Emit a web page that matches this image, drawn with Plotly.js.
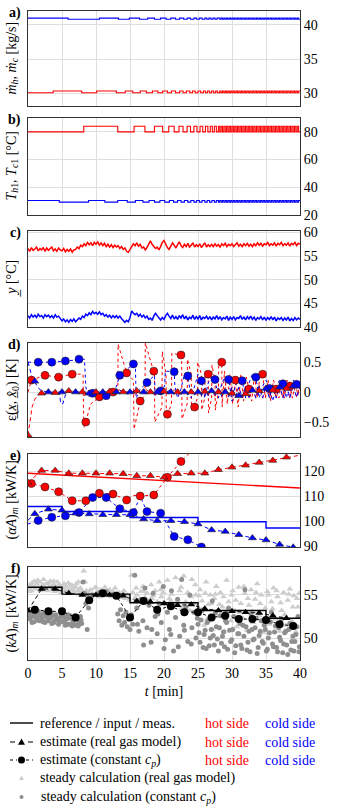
<!DOCTYPE html>
<html>
<head>
<meta charset="utf-8">
<script src="https://cdn.plot.ly/plotly-3.0.1.min.js"></script>
<style>
  body { margin: 0; background: #fff; }
  #chart { width: 342px; height: 809px; }
</style>
</head>
<body>
<div id="chart"></div>
<script>
const RED = '#ff0000';
const BLUE = '#0000ff';

// a) mass flows, square-wave inputs: switching times [min] and the two levels
const mhToggles = [3.7, 7.9, 10.1, 13.0, 14.3, 15.4, 16.5, 17.4, 18.3, 19.1, 19.8, 20.5, 21.1, 21.7, 22.3, 22.8, 23.3, 23.8, 24.2, 24.6, 25.0, 25.4, 25.8, 26.1, 26.4, 26.7, 27.0, 27.3, 27.6, 27.85];
const mcToggles = [5.9, 10.5, 13.3, 14.9, 16.4, 17.6, 18.6, 19.5, 20.3, 21.0, 21.7, 22.3, 22.9, 23.4, 23.9, 24.4, 24.8, 25.2, 25.6, 26.0, 26.3, 26.6, 26.9, 27.2, 27.5, 27.8];
const mhLevels = [30.05, 30.3];
const mcLevels = [40.84, 41.0];

// b) inlet temperatures
const thToggles = [8.2, 13.2, 15.6, 17.2, 18.6, 19.8, 20.7, 21.5, 22.2, 22.8, 23.4, 23.9, 24.4, 24.85, 25.3, 25.7, 26.1, 26.45, 26.8, 27.1, 27.4, 27.7, 28.0];
const tcToggles = [4.6, 8.9, 11.3, 13.2, 14.6, 15.8, 16.9, 17.8, 18.6, 19.4, 20.1, 20.8, 21.4, 22.0, 22.5, 23.0, 23.5, 23.95, 24.4, 24.8, 25.2, 25.6, 26.0, 26.35, 26.7, 27.05, 27.4, 27.7, 28.0];
const thLevels = [80, 84];
const tcLevels = [29.3, 30.5];
// fast switching at the end of the test (same for all inputs)
const tailToggles = [28.2, 28.4, 28.6, 28.8, 29, 29.2, 29.4, 29.6, 29.8, 30, 30.2, 30.4, 30.6, 30.8, 31, 31.2, 31.4, 31.6, 31.8, 32, 32.2, 32.4, 32.6, 32.8, 33, 33.2, 33.4, 33.6, 33.8, 34, 34.2, 34.4, 34.6, 34.8, 35, 35.2, 35.4, 35.6, 35.8, 36, 36.2, 36.4, 36.6, 36.8, 37, 37.2, 37.4, 37.6, 37.8, 38, 38.2, 38.4, 38.6, 38.8, 39, 39.2, 39.4, 39.6, 39.8];

// c) measured outlet temperatures, sampled every 0.25 min
const yHot = [56.6, 56.0, 56.8, 56.2, 56.5, 56.9, 56.1, 56.6, 56.3, 56.8, 56.0, 56.7, 56.2, 56.6, 56.9, 56.1,
  56.5, 56.0, 56.7, 56.3, 56.1, 56.6, 55.9, 56.4, 56.0, 56.5, 55.8, 56.3, 56.4, 56.9, 56.6, 57.3,
  57.0, 57.6, 57.2, 57.9, 57.4, 57.8, 57.2, 57.9, 57.5, 58.0, 57.3, 57.8, 57.2, 57.7, 57.0, 57.5,
  56.9, 57.4, 56.8, 57.3, 56.9, 57.2, 56.6, 57.0, 56.4, 56.7, 56.0, 55.8, 56.3, 57.0, 57.6, 57.2,
  57.8, 57.1, 57.5, 56.7, 56.9, 56.3, 56.8, 57.6, 58.2, 57.5, 57.0, 56.6, 56.9, 56.3, 57.0, 57.9,
  58.3, 57.4, 56.8, 56.4, 57.1, 57.8, 57.3, 56.7, 57.4, 58.0, 57.2, 56.8, 57.5, 57.0, 57.7, 56.9,
  57.3, 57.8, 56.9, 57.4, 57.0, 57.6, 56.8, 57.3, 57.8, 56.9, 57.4, 57.0, 57.5, 57.0, 57.6, 57.1,
  57.4, 56.9, 57.6, 57.2, 57.7, 57.0, 57.5, 57.2, 57.6, 57.0, 57.4, 57.8, 57.1, 57.5, 57.0, 57.6,
  57.2, 57.7, 57.1, 57.5, 57.0, 57.6, 57.2, 57.8, 57.3, 57.7, 57.1, 57.6, 57.4, 57.9, 57.2, 57.6,
  57.3, 57.8, 57.1, 57.7, 57.4, 57.9, 57.2, 57.6, 57.3, 57.8, 57.1, 57.7, 57.4, 57.9, 57.2, 57.7, 57.5];
const yCold = [42.4, 41.9, 42.6, 42.1, 42.5, 42.0, 42.7, 42.2, 42.4, 41.9, 42.6, 42.2, 42.5, 42.0, 42.4, 41.9,
  42.6, 42.1, 42.3, 41.7, 41.3, 41.7, 41.1, 41.5, 41.0, 41.6, 41.2, 41.7, 41.1, 41.5, 41.9, 41.6,
  42.3, 42.0, 42.7, 42.4, 43.0, 42.6, 43.3, 42.8, 43.1, 42.7, 43.2, 42.6, 42.9, 42.3, 42.6, 42.1,
  42.5, 41.9, 42.4, 42.0, 42.4, 41.9, 42.3, 41.8, 41.5, 41.0, 41.4, 41.1, 42.0, 43.4, 42.9, 42.6,
  42.9, 42.3, 42.7, 42.1, 42.5, 41.9, 42.3, 41.6, 41.9, 41.4, 42.3, 42.9, 42.4, 41.8, 41.5, 42.0,
  41.6, 42.4, 42.9, 42.3, 41.8, 42.5, 41.7, 42.2, 41.6, 42.4, 41.9, 42.6, 41.7, 42.3, 41.5, 42.1,
  41.8, 42.5, 41.6, 42.2, 41.7, 42.4, 41.5, 42.1, 41.8, 42.3, 41.6, 42.2, 41.5, 42.1, 41.7, 42.4,
  41.6, 42.2, 41.5, 42.0, 41.7, 42.3, 41.4, 42.1, 41.6, 42.2, 41.5, 42.0, 41.8, 42.4, 41.6, 42.1,
  41.5, 42.2, 41.7, 42.3, 41.6, 42.1, 41.4, 42.0, 41.7, 42.2, 41.5, 42.1, 41.4, 42.0, 41.6, 42.2,
  41.5, 42.1, 41.3, 41.9, 41.6, 42.0, 41.4, 41.9, 41.5, 42.1, 41.3, 41.8, 41.4, 42.0, 41.5, 41.9, 41.6];

// d) state estimation error
const dHotCpT = [0, 0.5, 2.5, 4.5, 6.5, 8.1, 8.2, 8.5, 9.2, 10.5, 12.5, 13.2, 13.25, 14.5, 15.5, 15.6, 16.5, 17.2, 17.25, 18.5, 18.6, 18.65, 19.7, 19.75, 20.3, 20.35, 20.5, 21.1, 21.15, 22.5, 22.6, 22.65, 23.4, 23.45, 24.0, 24.05, 24.5, 24.9, 24.95, 25.5, 25.55, 26.0, 26.05, 26.5, 26.55, 27.0, 27.05, 27.5, 27.55, 28.0, 28.05, 28.5, 28.55, 28.9, 29.3, 29.7, 30.1, 30.5, 30.9, 31.3, 31.7, 32.1, 32.5, 32.9, 33.3, 33.7, 34.1, 34.5, 34.9, 35.3, 35.7, 36.1, 36.5, 36.9, 37.3, 37.7, 38.1, 38.5, 38.9, 39.3, 39.7, 40];
const dHotCpV = [0, 0.2, 0.28, 0.25, 0.3, 0.3, -0.6, -0.5, -0.2, -0.08, 0, 0.02, 0.8, 0.32, 0.2, -0.62, -0.15, -0.05, 0.82, 0.35, 0.3, -0.5, -0.25, 0.68, 0.3, -0.4, -0.37, -0.2, 0.65, 0.62, 0.5, -0.45, -0.2, 0.55, 0.3, -0.3, -0.25, -0.1, 0.5, 0.3, -0.3, -0.1, 0.35, 0.3, -0.35, -0.1, 0.45, 0.2, -0.3, 0, 0.5, 0.5, -0.25, 0.35, -0.2, 0.3, -0.2, 0.2, -0.25, 0.3, -0.15, 0.25, 0.05, -0.15, 0.3, -0.1, 0.25, 0.3, -0.1, 0.2, -0.15, 0.2, 0.05, -0.1, 0.2, -0.1, 0.2, 0.1, -0.1, 0.15, -0.05, 0.1];
const dColdCpT = [0, 1.5, 3.5, 5.5, 7.5, 8.3, 8.5, 8.7, 9.5, 11.5, 12.5, 13.0, 13.5, 14.5, 15.5, 15.8, 15.9, 16.5, 17.5, 18.0, 18.6, 18.7, 19.5, 20.1, 20.2, 21.5, 21.6, 22.0, 22.5, 23.0, 23.5, 24.0, 24.5, 25.0, 25.5, 26.0, 26.5, 27.0, 27.5, 28.0, 28.5, 29.0, 29.5, 30.0, 30.5, 31.0, 31.5, 32.0, 32.5, 33.0, 33.5, 34.0, 34.5, 35.0, 35.5, 36.0, 36.5, 37.0, 37.5, 38.0, 38.5, 39.0, 39.5, 40];
const dColdCpV = [0.5, 0.5, 0.5, 0.52, 0.55, 0.55, 0.1, -0.05, -0.02, -0.06, -0.03, 0.1, 0.28, 0.38, 0.47, 0.4, -0.1, 0.05, 0.16, 0.2, 0.28, -0.05, 0.02, 0.1, 0.35, 0.34, 0.1, -0.1, 0.05, 0.3, 0.27, -0.1, 0.1, 0.3, 0.19, -0.1, 0.15, 0.25, 0.21, -0.1, 0.15, 0.25, 0.21, -0.15, 0.1, 0.2, 0.19, -0.1, 0.15, 0.3, 0.25, -0.1, 0.1, 0.2, 0.06, -0.15, 0.1, 0.2, 0.14, -0.1, 0.15, 0.2, 0.13, 0.05];
const dHotGasT = [0, 0.3, 0.6, 1, 1.5, 2, 4, 6, 8.2, 8.3, 8.7, 10, 13.2, 13.3, 13.8, 15.6, 15.7, 16.3, 17.2, 17.3, 17.8, 18.6, 18.7, 19.2, 19.8, 20.7, 21.5, 22.2, 22.8, 23.4, 24, 24.5, 25, 25.5, 26, 26.5, 27, 27.5, 28, 28.5, 29, 29.5, 30, 30.5, 31, 31.5, 32, 32.5, 33, 33.5, 34, 34.5, 35, 35.5, 36, 36.5, 37, 37.5, 38, 38.5, 39, 39.5, 40];
const dHotGasV = [-0.72, -0.45, -0.25, -0.12, -0.05, -0.02, -0.01, 0.02, 0, -0.06, 0.02, 0, 0, 0.06, 0, 0, -0.06, 0.02, 0, 0.05, 0, 0, -0.05, 0, 0.03, -0.03, 0.04, -0.04, 0.04, -0.04, 0.05, -0.05, 0.05, -0.05, 0.06, -0.06, 0.06, -0.07, 0.07, -0.08, 0.08, -0.08, 0.09, -0.09, 0.09, -0.1, 0.1, -0.1, 0.1, -0.1, 0.11, -0.1, 0.11, -0.1, 0.12, -0.1, 0.12, -0.1, 0.12, -0.1, 0.13, -0.08, 0.1];
const dColdGasT = [0, 0.3, 0.6, 1, 1.5, 2, 3, 4.6, 4.8, 5.1, 5.5, 6, 8.9, 9.0, 9.5, 11.3, 11.4, 12, 13.2, 13.3, 14, 14.6, 14.7, 15.3, 15.8, 16.9, 17.8, 18.6, 19.4, 20.1, 20.8, 21.4, 22, 22.5, 23, 23.5, 24, 24.5, 25, 25.5, 26, 26.5, 27, 27.5, 28, 28.5, 29, 29.5, 30, 30.5, 31, 31.5, 32, 32.5, 33, 33.5, 34, 34.5, 35, 35.5, 36, 36.5, 37, 37.5, 38, 38.5, 39, 39.5, 40];
const dColdGasV = [0.5, 0.35, 0.25, 0.17, 0.07, 0.02, 0, 0, -0.18, -0.2, -0.05, 0, 0, -0.08, 0, 0, -0.05, 0, 0, 0.04, 0, 0, -0.04, 0, 0.03, -0.03, 0.03, -0.03, 0.03, -0.04, 0.04, -0.04, 0.04, -0.04, 0.05, -0.05, 0.05, -0.05, 0.05, -0.06, 0.06, -0.06, 0.06, -0.07, 0.07, -0.07, 0.07, -0.08, 0.08, -0.08, 0.08, -0.09, 0.09, -0.09, 0.09, -0.1, 0.1, -0.1, 0.1, -0.1, 0.11, -0.1, 0.11, -0.1, 0.12, -0.1, 0.12, -0.09, 0.1];
// markers drawn every 2 min
const dHotCpMarkT = [0.5, 2.5, 4.5, 6.5, 8.5, 10.5, 12.5, 14.5, 16.5, 18.5, 20.5, 22.5, 24.5, 26.5, 28.5, 30.5, 32.5, 34.5, 36.5, 38.5];
const dHotCpMarkV = [0.2, 0.28, 0.25, 0.3, -0.5, -0.08, 0, 0.32, -0.15, 0.35, -0.37, 0.62, -0.25, 0.3, 0.5, 0.2, 0.05, 0.3, 0.05, 0.1];
const dColdCpMarkT = [1.5, 3.5, 5.5, 7.5, 9.5, 11.5, 13.5, 15.5, 17.5, 19.5, 21.5, 23.5, 25.5, 27.5, 29.5, 31.5, 33.5, 35.5, 37.5, 39.5];
const dColdCpMarkV = [0.5, 0.5, 0.52, 0.55, -0.02, -0.06, 0.28, 0.47, 0.16, 0.02, 0.34, 0.27, 0.19, 0.21, 0.21, 0.19, 0.25, 0.06, 0.14, 0.13];
const dHotGasMarkT = [0, 2, 4, 6, 8, 10, 12, 14, 16, 18, 20, 22, 24, 26, 28, 30, 32, 34, 36, 38];
const dHotGasMarkV = [-0.72, -0.02, -0.01, 0.02, 0, 0, 0.01, 0, 0.02, 0, 0.01, 0, 0, 0.01, 0, -0.02, -0.03, 0.02, 0.03, 0.06];
const dColdGasMarkT = [1, 3, 5, 7, 9, 11, 13, 15, 17, 19, 21, 23, 25, 27, 29, 31, 33, 35, 37, 39];
const dColdGasMarkV = [0.18, 0, 0, 0, -0.02, 0, 0, 0, 0, 0, 0, 0, 0, 0.02, 0, -0.06, 0.03, 0.06, 0.08, 0.1];

// e) convective conductances
const eHotRefT = [0, 40];
const eHotRefV = [119.3, 113.4];
const eColdRefT = [0, 5, 15, 25, 35, 40];
const eColdRefV = [106.0, 104.0, 101.6, 99.9, 97.4, 97.4];
const eHotGasT = [0, 2, 4, 6, 8, 10, 12, 14, 16, 18, 20, 22, 24, 26, 28, 30, 32, 34, 36, 38, 40];
const eHotGasV = [115.6, 120.4, 120.4, 119.3, 119.3, 119.3, 119.3, 119.1, 118.3, 118.3, 117.7, 119.1, 119.3, 119.3, 120.7, 121.7, 122.5, 123.6, 124.4, 125.7, 126.5];
const eColdGasT = [0, 1, 3, 5, 7, 9, 11, 13, 15, 17, 19, 21, 23, 25, 27, 29, 31, 33, 35, 37, 39, 40];
const eColdGasV = [100.5, 103.1, 104.9, 104.5, 103.3, 103.0, 102.7, 102.7, 102.7, 101.0, 100.3, 100.3, 99.9, 99.0, 96.6, 96.0, 94.7, 93.4, 92.6, 90.8, 89.7, 89.3];
const eHotCpT = [0, 0.5, 2.5, 4.5, 6.5, 8.5, 10.5, 12.5, 14.5, 15.5, 16.5, 18.5, 20.5, 22.5, 23.8];
const eHotCpV = [115.5, 115.2, 113.8, 111.9, 108.3, 108.3, 111.3, 111.0, 108.6, 110.5, 110.2, 110.6, 117.7, 124.0, 127.5];
const eHotCpMarkT = [0.5, 2.5, 4.5, 6.5, 8.5, 10.5, 12.5, 14.5, 16.5, 18.5, 20.5, 22.5];
const eHotCpMarkV = [115.2, 113.8, 111.9, 108.3, 108.3, 111.3, 111.0, 108.6, 110.2, 110.6, 117.7, 124.0];
const eColdCpT = [0, 1.5, 3.5, 5.5, 7.5, 9.5, 11.5, 13.5, 15.5, 16.5, 17.5, 19.5, 21.5, 23.5, 25.5, 26.2];
const eColdCpV = [99.0, 100.4, 101.7, 102.3, 103.6, 109.6, 109.6, 105.1, 103.6, 110.0, 104.0, 103.3, 94.0, 92.7, 89.8, 89.0];
const eColdCpMarkT = [1.5, 3.5, 5.5, 7.5, 9.5, 11.5, 13.5, 15.5, 17.5, 19.5, 21.5, 23.5, 25.5];
const eColdCpMarkV = [100.4, 101.7, 102.3, 103.6, 109.6, 109.6, 105.1, 103.6, 104.0, 103.3, 94.0, 92.7, 89.8];

// f) overall conductance
const fRefT = [0, 5, 15, 25, 35, 40];
const fRefV = [55.9, 55.1, 54.1, 53.2, 52.3, 52.3];
const fGasT = [0, 2, 4, 6, 8, 10, 12, 14, 16, 18, 20, 22, 24, 26, 28, 30, 32, 34, 36, 38];
const fGasV = [53.2, 55.7, 55.7, 55.2, 55.0, 55.0, 55.0, 54.9, 54.3, 54.2, 54.0, 53.8, 53.9, 53.4, 53.2, 53.1, 53.0, 52.9, 52.6, 52.3];
const fCpT = [1, 3, 5, 7, 9, 11, 13, 15, 17, 19, 21, 23, 25, 27, 29, 31, 33, 35, 37, 39];
const fCpV = [53.3, 53.1, 53.1, 52.4, 54.4, 55.2, 54.9, 52.4, 54.3, 53.3, 53.7, 53.0, 53.0, 52.4, 52.6, 52.2, 52.2, 52.1, 51.6, 51.4];
// steady-state calculations (scatter clouds)
const steadyGasT = [0.1, 0.3, 0.5, 0.7, 0.9, 1.1, 1.3, 1.5, 1.7, 1.9, 2.1, 2.3, 2.5, 2.7, 2.9, 3.1, 3.3, 3.5, 3.7, 3.9, 4.1, 4.3, 4.5, 4.7, 4.9, 5.1, 5.3, 5.5, 5.7, 5.9, 6.1, 6.3, 6.5, 6.7, 6.9, 7.1, 7.3, 7.5, 7.7, 7.9,
  8.2, 8.4, 8.6, 8.9, 9.2, 9.5, 9.8, 10.1, 10.4, 10.7, 11.0, 11.3, 11.6, 11.9, 12.2, 12.5, 12.8, 13.1, 13.4, 13.7, 14.0, 14.3, 14.6, 14.9,
  15.2, 15.4, 15.7, 16.0, 16.3, 16.6, 16.9, 17.2, 17.5, 17.8, 18.1, 18.4, 18.7, 19.0, 19.3, 19.6, 19.9, 20.2, 20.5, 20.8, 21.1, 21.4, 21.7, 22.0, 22.3, 22.6, 22.9, 23.2, 23.5, 23.8, 24.1, 24.4, 24.7,
  25.0, 25.3, 25.6, 25.9, 26.2, 26.5, 26.8, 27.1, 27.4, 27.7, 28.0, 28.3, 28.6, 28.9, 29.2, 29.5, 29.8, 30.1, 30.4, 30.7, 31.0, 31.3, 31.6, 31.9, 32.2, 32.5, 32.8, 33.1, 33.4, 33.7, 34.0, 34.3, 34.6, 34.9, 35.2, 35.5, 35.8, 36.1, 36.4, 36.7, 37.0, 37.3, 37.6, 37.9, 38.2, 38.5, 38.8, 39.1, 39.4, 39.7, 39.9,
  0.2, 0.6, 1.0, 1.4, 1.8, 2.2, 2.6, 3.0, 3.4, 3.8, 4.2, 4.6, 5.0, 5.4, 5.8, 6.2, 6.6, 7.0, 7.4, 7.8,
  9.0, 10.0, 11.1, 12.0, 13.0, 14.1, 15.9, 17.0, 18.2, 19.5, 21.0, 22.5, 24.0, 24.6,
  25.15, 25.45, 26.05, 26.35, 26.95, 27.55, 28.15, 28.75, 29.35, 29.95, 30.55, 31.15, 31.75, 32.35, 32.95, 33.55, 34.15, 34.75, 35.35, 35.95, 36.55, 37.15, 37.75, 38.35, 38.95, 39.55];
const steadyGasV = [55.8, 56.2, 55.5, 56.0, 56.6, 55.7, 56.3, 55.9, 56.5, 55.6, 56.1, 56.8, 55.8, 56.3, 55.5, 56.0, 56.6, 55.7, 56.2, 55.4, 56.0, 56.5, 55.6, 56.1, 55.3, 55.8, 56.3, 55.5, 55.9, 56.4, 55.2, 55.7, 56.1, 55.4, 55.9, 56.3, 55.5, 55.1, 55.8, 55.3,
  57.8, 56.5, 55.5, 54.9, 55.6, 55.1, 55.8, 55.3, 54.8, 55.6, 55.2, 55.9, 55.0, 55.5, 54.8, 55.4, 55.8, 54.9, 55.3, 54.7, 55.2, 54.6, 55.0, 54.4,
  57.3, 55.3, 54.6, 55.0, 54.3, 55.4, 56.0, 54.7, 55.2, 54.4, 56.2, 54.9, 55.5, 54.2, 56.5, 54.8, 55.3, 54.0, 56.7, 54.6, 55.1, 53.8, 57.0, 54.4, 55.5, 53.5, 57.2, 54.2, 55.3, 53.2, 56.8, 54.0, 55.0,
  52.8, 55.6, 54.3, 51.5, 56.5, 53.9, 55.0, 51.0, 54.6, 56.0, 52.5, 55.3, 53.6, 50.8, 56.7, 54.2, 52.0, 55.5, 53.2, 51.3, 55.9, 54.0, 52.3, 55.2, 50.9, 53.8, 55.6, 51.8, 54.5, 56.3, 52.6, 55.0, 50.6, 53.5, 55.4, 51.6, 54.2, 55.8, 52.2, 54.8, 50.8, 53.2, 55.3, 51.5, 54.4, 55.7, 52.0, 54.9, 50.7, 53.6, 55.2,
  55.4, 56.4, 55.9, 56.7, 55.5, 56.2, 55.6, 56.4, 55.9, 56.6, 55.5, 56.2, 55.7, 56.0, 55.4, 56.2, 55.6, 55.9, 56.5, 55.6,
  55.3, 55.9, 54.9, 55.6, 55.2, 55.5, 55.8, 55.4, 54.6, 55.6, 54.3, 55.9, 54.8, 56.2,
  54.9, 53.3, 55.2, 52.2, 54.0, 55.1, 53.9, 54.8, 52.8, 55.0, 54.4, 53.0, 56.0, 54.6, 53.1, 55.3, 54.0, 51.9, 55.0, 53.4, 55.5, 54.1, 52.7, 55.1, 53.6, 54.6];
const steadyCpT = [0.1, 0.3, 0.5, 0.7, 0.9, 1.1, 1.3, 1.5, 1.7, 1.9, 2.1, 2.3, 2.5, 2.7, 2.9, 3.1, 3.3, 3.5, 3.7, 3.9, 4.1, 4.3, 4.5, 4.7, 4.9, 5.1, 5.3, 5.5, 5.7, 5.9, 6.1, 6.3, 6.5, 6.7, 6.9, 7.1, 7.3, 7.5, 7.7, 7.9,
  8.1, 8.3, 8.5, 8.7, 8.9, 9.5, 10.5, 11.5, 12.5,
  13.2, 13.4, 13.6, 13.8, 14.0, 14.2, 14.4, 14.6, 14.8, 15.0, 15.2, 15.4,
  15.7, 16.0, 16.3, 16.6, 16.9, 17.2, 17.5, 17.8, 18.1, 18.4, 18.7, 19.0, 19.3, 19.6, 19.9, 20.2, 20.5, 20.8, 21.1, 21.4, 21.7, 22.0, 22.3, 22.6, 22.9, 23.2, 23.5, 23.8, 24.1, 24.4, 24.7,
  25.0, 25.3, 25.6, 25.9, 26.2, 26.5, 26.8, 27.1, 27.4, 27.7, 28.0, 28.3, 28.6, 28.9, 29.2, 29.5, 29.8, 30.1, 30.4, 30.7, 31.0, 31.3, 31.6, 31.9, 32.2, 32.5, 32.8, 33.1, 33.4, 33.7, 34.0, 34.3, 34.6, 34.9, 35.2, 35.5, 35.8, 36.1, 36.4, 36.7, 37.0, 37.3, 37.6, 37.9, 38.2, 38.5, 38.8, 39.1, 39.4, 39.7, 39.9,
  0.2, 0.6, 1.0, 1.4, 1.8, 2.2, 2.6, 3.0, 3.4, 3.8, 4.2, 4.6, 5.0, 5.4, 5.8, 6.2, 6.6, 7.0, 7.4, 7.8,
  16.1, 17.0, 18.2, 19.1, 20.0, 21.0, 22.1, 23.0, 24.0, 24.9,
  25.15, 25.45, 25.75, 26.05, 26.35, 26.65, 26.95, 27.25, 27.55, 27.85, 28.15, 28.45, 28.75, 29.05, 29.35, 29.65, 29.95, 30.25, 30.55, 30.85, 31.15, 31.45, 31.75, 32.05, 32.35, 32.65, 32.95, 33.25, 33.55, 33.85, 34.15, 34.45, 34.75, 35.05, 35.35, 35.65, 35.95, 36.25, 36.55, 36.85, 37.15, 37.45, 37.75, 38.05, 38.35, 38.65, 38.95, 39.25, 39.55, 39.85];
const steadyCpV = [52.8, 52.2, 53.0, 52.5, 51.9, 52.7, 52.3, 53.1, 52.0, 52.6, 52.2, 52.9, 51.8, 52.5, 52.1, 52.8, 52.3, 51.7, 52.6, 52.0, 52.7, 52.2, 51.6, 52.4, 52.9, 51.9, 52.5, 51.5, 52.2, 52.7, 51.6, 52.3, 51.4, 52.0, 52.6, 51.5, 52.2, 51.8, 52.5, 51.7,
  56.5, 55.2, 54.0, 51.0, 53.5, 55.0, 55.3, 55.4, 55.1,
  52.8, 52.0, 53.3, 51.5, 52.6, 51.8, 53.0, 51.3, 52.2, 51.0, 52.7, 51.6,
  57.3, 53.5, 50.8, 54.5, 52.0, 55.8, 51.2, 53.8, 49.5, 55.2, 52.5, 50.5, 54.0, 51.8, 56.0, 49.8, 53.0, 51.0, 55.5, 48.5, 52.4, 54.5, 50.2, 56.8, 51.5, 53.6, 49.6, 55.0, 51.2, 53.0, 50.0,
  51.6, 49.5, 53.2, 50.4, 48.8, 52.0, 50.0, 54.3, 49.2, 51.3, 48.5, 52.6, 50.2, 49.0, 51.8, 53.5, 49.6, 51.0, 48.3, 52.3, 50.5, 49.2, 51.5, 55.6, 48.6, 50.8, 52.8, 49.8, 51.2, 48.2, 50.3, 52.0, 49.4, 51.0, 48.7, 50.6, 53.0, 49.0, 51.4, 48.4, 50.1, 52.2, 49.3, 50.8, 48.1, 51.7, 49.6, 48.5, 50.4, 52.5, 49.0,
  52.4, 51.8, 52.9, 52.1, 52.7, 51.9, 52.6, 52.0, 52.9, 51.8, 52.4, 51.9, 52.6, 52.0, 51.6, 52.6, 51.8, 52.3, 51.4, 52.1,
  51.6, 49.2, 51.0, 52.8, 48.8, 50.4, 49.0, 50.9, 49.3, 52.3,
  50.6, 52.1, 48.9, 50.9, 51.8, 49.1, 51.0, 50.3, 52.9, 49.9, 51.2, 49.4, 50.7, 52.0, 48.7, 50.9, 49.8, 52.5, 49.1, 50.5, 51.7, 48.8, 50.2, 51.3, 49.5, 48.4, 51.0, 49.9, 52.3, 48.9, 50.8, 49.6, 51.5, 48.5, 50.0, 51.9, 49.3, 50.7, 48.9, 51.2, 49.7, 48.3, 50.6, 49.2, 51.0, 48.6, 50.2, 49.6, 51.3, 48.4];

// legend rows (pixel rows of the reference) and their labels
const legendRows = [723, 742, 760, 778, 797];
const legendLabels = ['reference / input / meas.', 'estimate (real gas model)', 'estimate (constant <i>c<sub>p</sub></i>)',
  'steady calculation (real gas model)', 'steady calculation (constant <i>c<sub>p</sub></i>)'];

// ---------- helpers ----------
const W = 342, H = 809;
const FONT = '"Liberation Serif", "Times New Roman", serif';
// panel boxes in pixels (top, bottom)
const boxes = [[11, 106], [118, 215], [231, 327], [343, 437], [454, 547], [567, 660]];
const xDom = [28 / W, 300 / W];
function yDom(i) { return [1 - boxes[i][1] / H, 1 - boxes[i][0] / H]; }
const px = v => v / W;
const py = v => 1 - v / H;

function steps(toggles, levels, startHigh) {
  const x = [0], y = [levels[startHigh ? 1 : 0]];
  let high = startHigh;
  toggles.forEach(t => { high = !high; x.push(t); y.push(levels[high ? 1 : 0]); });
  x.push(40); y.push(y[y.length - 1]);
  return { x, y };
}

function line(ax, x, y, color, dash, width, shape) {
  return { x, y, xaxis: 'x' + ax, yaxis: 'y' + ax, mode: 'lines',
    line: { color, dash: dash || 'solid', width: width || 1.2, shape: shape || 'linear' }, hoverinfo: 'skip' };
}
function marks(ax, x, y, color, symbol, size) {
  return { x, y, xaxis: 'x' + ax, yaxis: 'y' + ax, mode: 'markers',
    marker: { color, symbol, size: size || 8, line: { color: '#222', width: 0.6 } }, hoverinfo: 'skip' };
}

const traces = [];
// a)
const mh = steps(mhToggles.concat(tailToggles), mhLevels, false);
const mc = steps(mcToggles.concat(tailToggles), mcLevels, true);
traces.push(line('', mh.x, mh.y, RED, 'solid', 1.1, 'hv'), line('', mc.x, mc.y, BLUE, 'solid', 1.1, 'hv'));
// b)
const th = steps(thToggles.concat(tailToggles), thLevels, false);
const tc = steps(tcToggles.concat(tailToggles), tcLevels, true);
traces.push(line('2', th.x, th.y, RED, 'solid', 1.1, 'hv'), line('2', tc.x, tc.y, BLUE, 'solid', 1.1, 'hv'));
// c)
traces.push(Object.assign(line('3', null, yHot, RED, 'solid', 1.5), { x0: 0, dx: 0.25 }));
traces.push(Object.assign(line('3', null, yCold, BLUE, 'solid', 1.5), { x0: 0, dx: 0.25 }));
// d)
traces.push(line('4', dHotCpT, dHotCpV, RED, 'dot', 1));
traces.push(line('4', dColdCpT, dColdCpV, BLUE, 'dot', 1));
traces.push(line('4', dHotGasT, dHotGasV, RED, '4px,3px', 1));
traces.push(line('4', dColdGasT, dColdGasV, BLUE, '4px,3px', 1));
traces.push(marks('4', dHotCpMarkT, dHotCpMarkV, RED, 'circle'));
traces.push(marks('4', dColdCpMarkT, dColdCpMarkV, BLUE, 'circle'));
traces.push(marks('4', dHotGasMarkT, dHotGasMarkV, RED, 'triangle-up', 7));
traces.push(marks('4', dColdGasMarkT, dColdGasMarkV, BLUE, 'triangle-up', 7));
// e)
traces.push(line('5', eHotRefT, eHotRefV, RED, 'solid', 1.4));
traces.push(line('5', eColdRefT, eColdRefV, BLUE, 'solid', 1.4, 'hv'));
traces.push(line('5', eHotCpT, eHotCpV, RED, 'dot', 1));
traces.push(line('5', eColdCpT, eColdCpV, BLUE, 'dot', 1));
traces.push(line('5', eHotGasT, eHotGasV, RED, '4px,3px', 1));
traces.push(line('5', eColdGasT, eColdGasV, BLUE, '4px,3px', 1));
traces.push(marks('5', eHotCpMarkT, eHotCpMarkV, RED, 'circle'));
traces.push(marks('5', eColdCpMarkT, eColdCpMarkV, BLUE, 'circle'));
traces.push(marks('5', eHotGasT.slice(0, -1), eHotGasV.slice(0, -1), RED, 'triangle-up', 7));
traces.push(marks('5', eColdGasT.slice(1, -1), eColdGasV.slice(1, -1), BLUE, 'triangle-up', 7));
// f)
traces.push({ x: steadyGasT, y: steadyGasV, xaxis: 'x6', yaxis: 'y6', mode: 'markers',
  marker: { symbol: 'triangle-up', size: 6, color: '#cdcdcd' }, hoverinfo: 'skip' });
traces.push({ x: steadyCpT, y: steadyCpV, xaxis: 'x6', yaxis: 'y6', mode: 'markers',
  marker: { symbol: 'circle', size: 5, color: '#8f8f8f' }, hoverinfo: 'skip' });
traces.push(line('6', fRefT, fRefV, '#000', 'solid', 1.4, 'hv'));
traces.push({ x: fCpT, y: fCpV, xaxis: 'x6', yaxis: 'y6', mode: 'lines+markers',
  line: { color: '#000', width: 1, dash: 'dot' },
  marker: { symbol: 'circle', size: 8, color: '#000' }, hoverinfo: 'skip' });
traces.push({ x: fGasT, y: fGasV, xaxis: 'x6', yaxis: 'y6', mode: 'lines+markers',
  line: { color: '#000', width: 1, dash: '4px,3px' },
  marker: { symbol: 'triangle-up', size: 7, color: '#000' }, hoverinfo: 'skip' });

// ---------- layout ----------
const yRanges = [[28.1, 42.05], [20, 90], [40, 60.3], [-0.75, 0.82], [89.8, 127], [47.45, 58.25]];
const yTicks = [[30, 35, 40], [20, 40, 60, 80], [40, 45, 50, 55, 60], [-0.5, 0, 0.5], [90, 100, 110, 120], [50, 55]];
const yTitles = [
  '<i>ṁ</i><sub><i>h</i></sub>, <i>ṁ</i><sub><i>c</i></sub> [kg/s]',
  '<i>T</i><sub><i>h</i>1</sub>, <i>T</i><sub><i>c</i>1</sub> [°C]',
  '<i>y̲</i> [°C]',
  'ε̲(<i>x̲</i>, <i>x̲̂</i><sub>0</sub>) [K]',
  '(<i>αA</i>)<sub><i>m</i></sub> [kW/K]',
  '(<i>kA</i>)<sub><i>m</i></sub> [kW/K]'];
const panelTags = ['a)', 'b)', 'c)', 'd)', 'e)', 'f)'];

const layout = {
  width: W, height: H,
  margin: { l: 0, r: 0, t: 0, b: 0 },
  paper_bgcolor: '#fff', plot_bgcolor: '#fff',
  font: { family: FONT, size: 14, color: '#000' },
  showlegend: false,
  annotations: [], shapes: []
};

for (let i = 0; i < 6; i++) {
  const s = i === 0 ? '' : String(i + 1);
  layout['xaxis' + s] = {
    domain: xDom, range: [0, 40], anchor: 'y' + s, tickvals: [0, 5, 10, 15, 20, 25, 30, 35, 40],
    showticklabels: i === 5, ticks: '', showline: true, mirror: true, linecolor: '#333', linewidth: 1,
    gridcolor: '#dedede', gridwidth: 1, zeroline: false, tickfont: { family: FONT, size: 14 }
  };
  layout['yaxis' + s] = {
    domain: yDom(i), range: yRanges[i], anchor: 'x' + s, side: 'right', tickvals: yTicks[i],
    ticks: '', showline: true, mirror: true, linecolor: '#333', linewidth: 1,
    gridcolor: '#dedede', gridwidth: 1, zeroline: false, tickfont: { family: FONT, size: 14 }
  };
  const mid = (boxes[i][0] + boxes[i][1]) / 2;
  layout.annotations.push({ xref: 'paper', yref: 'paper', x: px(12), y: py(mid), text: yTitles[i],
    textangle: -90, showarrow: false, xanchor: 'center', yanchor: 'middle', font: { family: FONT, size: 14 } });
  layout.annotations.push({ xref: 'paper', yref: 'paper', x: px(23), y: py(boxes[i][0] + 2),
    text: '<b>' + panelTags[i] + '</b>', showarrow: false, xanchor: 'right', yanchor: 'middle',
    font: { family: FONT, size: 14 } });
}
layout.xaxis6.title = { text: '<i>t</i> [min]', font: { family: FONT, size: 14 }, standoff: 6 };

// ---------- legend (drawn by hand: three colour columns) ----------
legendRows.forEach((r, k) => {
  layout.annotations.push({ xref: 'paper', yref: 'paper', x: px(k === 4 ? 39 : 38), y: py(r), text: legendLabels[k],
    showarrow: false, xanchor: 'left', yanchor: 'middle', font: { family: FONT, size: 14 } });
  if (k < 3) {
    layout.annotations.push({ xref: 'paper', yref: 'paper', x: px(203), y: py(r), text: 'hot side',
      showarrow: false, xanchor: 'left', yanchor: 'middle', font: { family: FONT, size: 14, color: RED } });
    layout.annotations.push({ xref: 'paper', yref: 'paper', x: px(263), y: py(r), text: 'cold side',
      showarrow: false, xanchor: 'left', yanchor: 'middle', font: { family: FONT, size: 14, color: BLUE } });
  }
});
const lg = (x0, x1, r, dash, width) => ({ type: 'line', xref: 'paper', yref: 'paper', x0: px(x0), x1: px(x1),
  y0: py(r), y1: py(r), line: { color: '#000', width: width || 1, dash: dash || 'solid' } });
const tri = (cx, r, s, color) => ({ type: 'path', xref: 'paper', yref: 'paper', fillcolor: color, line: { width: 0 },
  path: `M${px(cx - s)},${py(r + s * 0.8)} L${px(cx + s)},${py(r + s * 0.8)} L${px(cx)},${py(r - s)} Z` });
const dot = (cx, r, s, color) => ({ type: 'circle', xref: 'paper', yref: 'paper', fillcolor: color, line: { width: 0 },
  x0: px(cx - s), x1: px(cx + s), y0: py(r + s), y1: py(r - s) });
layout.shapes.push(lg(10, 33, legendRows[0], 'solid', 1.4));
layout.shapes.push(lg(10, 15, legendRows[1]), lg(28, 33, legendRows[1]), tri(21.5, legendRows[1], 3.5, '#000'));
layout.shapes.push(lg(10, 17, legendRows[2], 'dot'), lg(26, 33, legendRows[2], 'dot'), dot(21.5, legendRows[2], 3.5, '#000'));
layout.shapes.push(tri(21.5, legendRows[3], 2.5, '#cdcdcd'));
layout.shapes.push(dot(21.5, legendRows[4], 2, '#8f8f8f'));

Plotly.newPlot('chart', traces.map(t => Object.assign(t, { showlegend: false })), layout,
  { displayModeBar: false, staticPlot: true });
</script>
</body>
</html>
